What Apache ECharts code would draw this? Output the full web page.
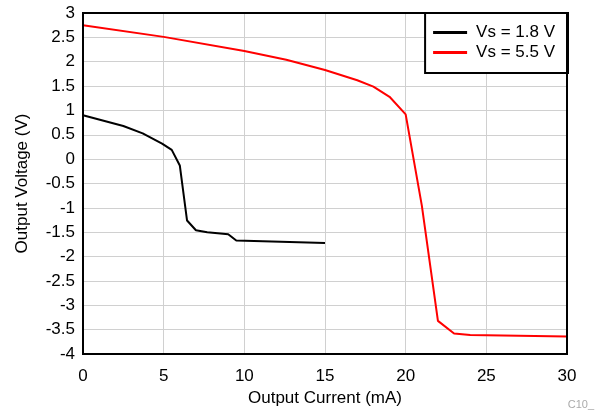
<!DOCTYPE html>
<html lang="en">
<head>
    <meta charset="UTF-8">
    <title>Output Voltage vs Output Current</title>
    <script src="https://cdn.jsdelivr.net/npm/echarts@6/dist/echarts.min.js"></script>
    <style>
        html, body { margin: 0; padding: 0; background: #fff; }
        #main { width: 598px; height: 413px; }
    </style>
</head>
<body>
    <div id="main"></div>
    <script>
        // Vs = 1.8 V curve (mA, V)
        var lowX = [0, 2.5, 3.7, 4.9, 5.5, 6.0, 6.45, 7.0, 7.7, 9.0, 9.5, 15.0];
        var lowY = [0.9, 0.68, 0.53, 0.32, 0.19, -0.13, -1.26, -1.46, -1.5, -1.54, -1.67, -1.72];
        // Vs = 5.5 V curve
        var highX = [0, 5, 10, 12.6, 15, 17, 18, 19, 20, 21, 22, 23, 24, 30];
        var highY = [2.75, 2.51, 2.22, 2.04, 1.83, 1.62, 1.49, 1.28, 0.92, -0.95, -3.32, -3.58, -3.61, -3.64];
        var seriesNames = ['Vs = 1.8 V', 'Vs = 5.5 V'];

        function pairs(xs, ys) {
            return xs.map(function (x, i) { return [x, ys[i]]; });
        }

        var font = 'Liberation Sans, Arial, sans-serif';
        var myChart = echarts.init(document.getElementById('main'));
        var option = {
            backgroundColor: '#ffffff',
            animation: false,
            grid: { left: 83, right: 31, top: 13, bottom: 59, containLabel: false, outerBoundsMode: 'none' },
            legend: {
                data: seriesNames,
                orient: 'vertical',
                right: 30,
                top: 13,
                backgroundColor: '#fff',
                borderColor: '#000',
                borderWidth: 2,
                borderRadius: 0,
                padding: [11, 13, 12, 8],
                itemGap: 3,
                itemWidth: 34,
                itemHeight: 3,
                icon: 'rect',
                textStyle: { fontFamily: font, fontSize: 17, color: '#000', padding: [0, 0, 0, 4] }
            },
            xAxis: {
                type: 'value',
                min: 0, max: 30, interval: 5,
                name: 'Output Current (mA)',
                nameLocation: 'middle',
                nameGap: 33,
                nameTextStyle: { fontFamily: font, fontSize: 17, color: '#000' },
                axisLine: { show: false },
                axisTick: { show: false },
                axisLabel: { fontFamily: font, fontSize: 17, color: '#000', margin: 14 },
                splitLine: { show: true, lineStyle: { color: '#d0d0d0', width: 1 } }
            },
            yAxis: {
                type: 'value',
                min: -4, max: 3, interval: 0.5,
                name: 'Output Voltage (V)',
                nameLocation: 'middle',
                nameGap: 52,
                nameTextStyle: { fontFamily: font, fontSize: 17, color: '#000' },
                axisLine: { show: false },
                axisTick: { show: false },
                axisLabel: { fontFamily: font, fontSize: 17, color: '#000', margin: 8 },
                splitLine: { show: true, lineStyle: { color: '#d0d0d0', width: 1 } }
            },
            graphic: [
                {
                    type: 'rect',
                    shape: { x: 83, y: 13, width: 484, height: 341 },
                    style: { fill: 'none', stroke: '#000', lineWidth: 2 },
                    z: 10
                },
                {
                    type: 'text',
                    right: 4,
                    bottom: 3,
                    style: { text: 'C10_', fontFamily: font, fontSize: 11, fill: '#aaaaaa' }
                }
            ],
            series: [
                {
                    name: seriesNames[0],
                    type: 'line',
                    data: pairs(lowX, lowY),
                    showSymbol: false,
                    symbol: 'none',
                    itemStyle: { color: '#000' },
                    lineStyle: { color: '#000', width: 2 },
                    z: 5
                },
                {
                    name: seriesNames[1],
                    type: 'line',
                    data: pairs(highX, highY),
                    showSymbol: false,
                    symbol: 'none',
                    itemStyle: { color: '#ff0000' },
                    lineStyle: { color: '#ff0000', width: 2 },
                    z: 5
                }
            ]
        };
        myChart.setOption(option);
    </script>
</body>
</html>
